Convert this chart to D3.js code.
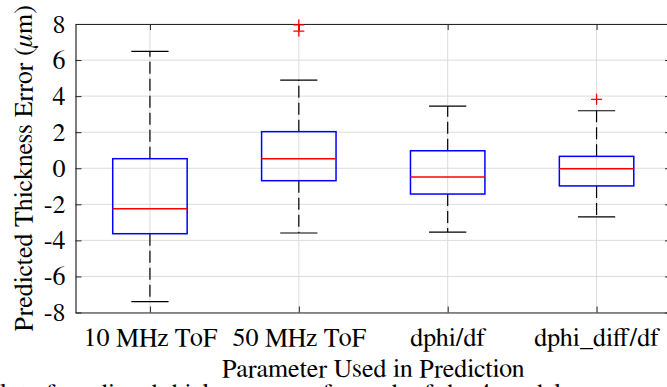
<!DOCTYPE html>
<html>
<head>
<meta charset="utf-8">
<script src="https://cdn.jsdelivr.net/npm/d3@7"></script>
<style>
  html, body { margin: 0; padding: 0; background: #fff; overflow: hidden; }
  svg { display: block; }
</style>
</head>
<body>
<svg id="chart" width="667" height="387"></svg>
<script>
// ---- Data ----
const categories   = ["10 MHz ToF", "50 MHz ToF", "dphi/df", "dphi_diff/df"];
const upperWhisker = [6.48, 4.89, 3.45, 3.19];
const q3           = [0.53, 2.03, 0.97, 0.66];
const medians      = [-2.25, 0.53, -0.49, -0.03];
const q1           = [-3.63, -0.69, -1.43, -0.98];
const lowerWhisker = [-7.40, -3.59, -3.54, -2.70];
const outliers     = [[], [7.95, 7.61], [], [3.82]];
const yTicks       = [-8, -6, -4, -2, 0, 2, 4, 6, 8];
const xLabel = "Parameter Used in Prediction";
const captionText = "lot of predicted thickness error for each of the 4 models";

// ---- pick an installed serif font ----
function pickFont(cands) {
  const c = document.createElement("canvas").getContext("2d");
  const s = "Predicted Thickness 10 MHz ToF dphi_diff/df WMmil";
  for (const f of cands) {
    let diff = false;
    for (const base of ["monospace", "sans-serif", "cursive"]) {
      c.font = `40px ${base}`; const w0 = c.measureText(s).width;
      c.font = `40px "${f}", ${base}`; const w1 = c.measureText(s).width;
      if (Math.abs(w1 - w0) > 0.5) { diff = true; } else { diff = false; break; }
    }
    if (diff) return `"${f}"`;
  }
  return "serif";
}
const serif = pickFont(["Liberation Serif", "Times New Roman", "Tinos", "Times", "Nimbus Roman",
  "Nimbus Roman No9 L", "FreeSerif", "DejaVu Serif", "Noto Serif", "Georgia", "Source Serif Pro",
  "Noto Serif CJK SC", "Noto Serif CJK JP"]) + ", serif";

// ---- Layout ----
const svg = d3.select("#chart");
const pLeft = 75.5, pRight = 671, pTop = 24, pBottom = 312.5;
const fontSize = 26;

const x = d3.scaleLinear().domain([0.5, categories.length + 0.5]).range([pLeft, pRight]);
const y = d3.scaleLinear().domain([-8, 8]).range([pBottom, pTop]);
const step = x(2) - x(1);
const boxW = step * 0.5;
const capW = step * 0.25;
const idx = categories.map((c, i) => i + 1);

// grid
const grid = svg.append("g").attr("stroke", "#dcdcdc").attr("stroke-width", 1);
grid.selectAll("line.h").data(yTicks).join("line").attr("class", "h")
  .attr("x1", pLeft).attr("x2", pRight)
  .attr("y1", d => y(d)).attr("y2", d => y(d));
grid.selectAll("line.v").data(idx).join("line").attr("class", "v")
  .attr("x1", d => x(d)).attr("x2", d => x(d))
  .attr("y1", pTop).attr("y2", pBottom);

// axes using d3 axis generators
const tickLen = 6;
const yAxisL = d3.axisLeft(y).tickValues(yTicks).tickSizeInner(-tickLen).tickSizeOuter(0)
  .tickFormat(d => String(d)).tickPadding(10);
const yAxisR = d3.axisRight(y).tickValues(yTicks).tickSizeInner(-tickLen).tickSizeOuter(0).tickFormat("");
const xAxisB = d3.axisBottom(x).tickValues(idx).tickSizeInner(-tickLen).tickSizeOuter(0)
  .tickFormat(d => categories[d - 1]).tickPadding(15);
const xAxisT = d3.axisTop(x).tickValues(idx).tickSizeInner(-tickLen).tickSizeOuter(0).tickFormat("");

function styleAxis(g) {
  g.attr("font-family", serif).attr("font-size", fontSize);
  g.select(".domain").attr("stroke", "#262626").attr("stroke-width", 1.2);
  g.selectAll(".tick line").attr("stroke", "#262626").attr("stroke-width", 1);
  g.selectAll(".tick text").attr("font-size", fontSize).attr("font-family", serif).attr("fill", "#000");
}
svg.append("g").attr("transform", `translate(${pLeft},0)`).call(yAxisL).call(styleAxis);
svg.append("g").attr("transform", `translate(${pRight},0)`).call(yAxisR).call(styleAxis);
svg.append("g").attr("transform", `translate(0,${pBottom})`).call(xAxisB).call(styleAxis);
svg.append("g").attr("transform", `translate(0,${pTop})`).call(xAxisT).call(styleAxis);

// boxes
const boxes = svg.append("g");
const data = idx.map((d, i) => ({ i: d, uw: upperWhisker[i], q3: q3[i], med: medians[i], q1: q1[i], lw: lowerWhisker[i], out: outliers[i] }));

function lines(cls, f) {
  return boxes.selectAll("line." + cls).data(data).join("line").attr("class", cls).each(function (d) {
    const s = f(d);
    d3.select(this).attr("x1", s[0]).attr("y1", s[1]).attr("x2", s[2]).attr("y2", s[3]);
  });
}
lines("wu", d => [x(d.i), y(d.q3), x(d.i), y(d.uw)])
  .attr("stroke", "#000").attr("stroke-width", 1.2).attr("stroke-dasharray", "12,5");
lines("wl", d => [x(d.i), y(d.q1), x(d.i), y(d.lw)])
  .attr("stroke", "#000").attr("stroke-width", 1.2).attr("stroke-dasharray", "12,5");
lines("cu", d => [x(d.i) - capW / 2, y(d.uw), x(d.i) + capW / 2, y(d.uw)])
  .attr("stroke", "#000").attr("stroke-width", 1.2);
lines("cl", d => [x(d.i) - capW / 2, y(d.lw), x(d.i) + capW / 2, y(d.lw)])
  .attr("stroke", "#000").attr("stroke-width", 1.2);
boxes.selectAll("rect").data(data).join("rect")
  .attr("x", d => x(d.i) - boxW / 2).attr("width", boxW)
  .attr("y", d => y(d.q3)).attr("height", d => y(d.q1) - y(d.q3))
  .attr("fill", "none").attr("stroke", "#0000ff").attr("stroke-width", 1.5);
lines("med", d => [x(d.i) - boxW / 2, y(d.med), x(d.i) + boxW / 2, y(d.med)])
  .attr("stroke", "#ff0000").attr("stroke-width", 1.5);

// outliers (+)
const outPts = data.flatMap(d => d.out.map(v => ({ i: d.i, v })));
const pm = 5.5;
svg.append("g").attr("stroke", "#ff0000").attr("stroke-width", 1.3)
  .selectAll("path").data(outPts).join("path")
  .attr("d", d => `M${x(d.i) - pm},${y(d.v)}H${x(d.i) + pm}M${x(d.i)},${y(d.v) - pm}V${y(d.v) + pm}`)
  .attr("fill", "none");

// labels
svg.append("text")
  .attr("x", (pLeft + pRight) / 2).attr("y", 377)
  .attr("text-anchor", "middle").attr("font-size", fontSize).attr("font-family", serif)
  .text(xLabel);

const yl = svg.append("text")
  .attr("transform", `translate(32,${(pTop + pBottom) / 2}) rotate(-90)`)
  .attr("text-anchor", "middle").attr("font-size", fontSize).attr("font-family", serif);
yl.append("tspan").text("Predicted Thickness Error (");
yl.append("tspan").attr("font-style", "italic").text("\u03bc");
yl.append("tspan").text("m)");

// cut-off caption at the bottom edge
svg.append("text")
  .attr("x", 0).attr("y", 402)
  .attr("font-size", fontSize).attr("font-family", serif)
  .text(captionText);
</script>
</body>
</html>
